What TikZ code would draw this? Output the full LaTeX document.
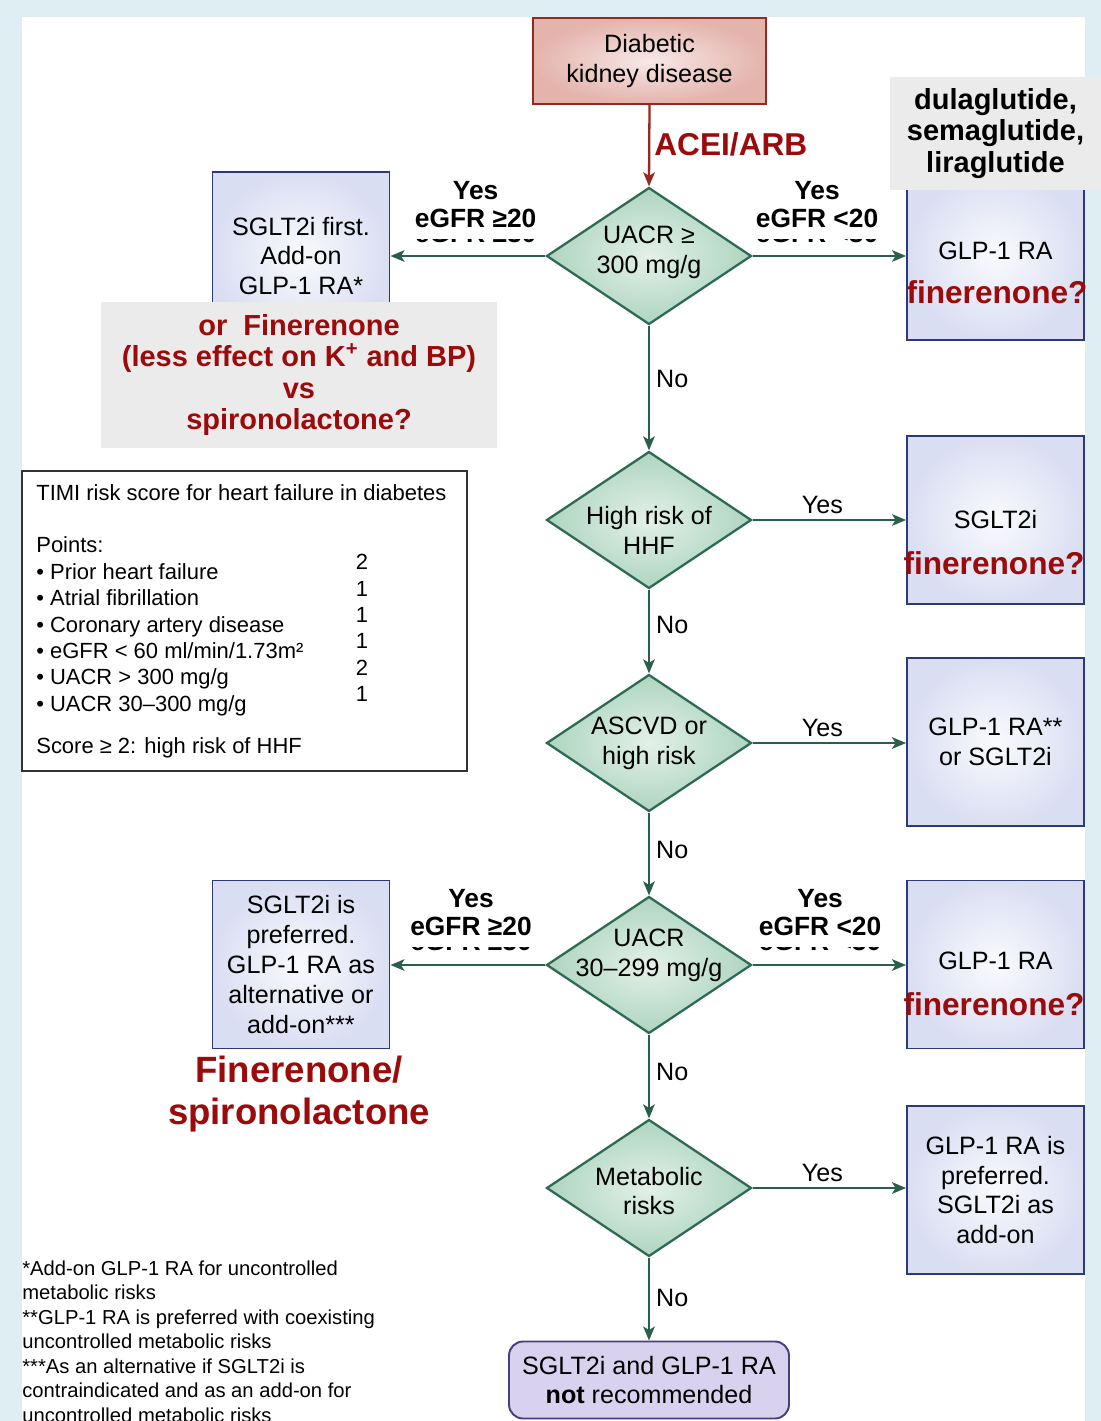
\documentclass[tikz,border=0pt]{standalone}
\usepackage{fontspec}
\setmainfont{Liberation Sans}
\usepackage{xcolor}
\usepackage{tikz}
\usetikzlibrary{shapes.geometric,arrows.meta}
\definecolor{pageBlue}{HTML}{DFEEF3}
\definecolor{kidRed}{HTML}{97281F}
\definecolor{kidPink}{HTML}{E4B3AC}
\definecolor{decGreen}{HTML}{2E6A53}
\definecolor{decFill}{HTML}{AED5BF}
\definecolor{boxNavy}{HTML}{2D3A78}
\definecolor{boxFill}{HTML}{DADEF2}
\definecolor{endPurple}{HTML}{4A3F7E}
\definecolor{endFill}{HTML}{D8D2EE}
\definecolor{noteRed}{HTML}{9B0B0B}
\definecolor{noteGray}{HTML}{EBEBEB}
\definecolor{flowGreen}{HTML}{2B5E4C}

\begin{document}
\begin{tikzpicture}[x=0.02cm, y=-0.02cm,
  every node/.style={font=\fontsize{14.3}{17}\selectfont},
  start/.style={draw=kidRed, line width=1.1pt, inner color=kidPink!30, outer color=kidPink,
                minimum width=4.66cm, minimum height=1.72cm, align=center},
  decision/.style={diamond, draw=decGreen, line width=1.3pt, inner color=decFill!35, outer color=decFill,
                   minimum width=4.1cm, minimum height=2.74cm, inner sep=0pt},
  dtext/.style={align=center, inner sep=0pt},
  drug/.style={draw=boxNavy, line width=1.1pt, inner color=boxFill!15, outer color=boxFill,
               minimum width=3.54cm, minimum height=3.36cm, align=center},
  stopbox/.style={draw=endPurple, line width=1.1pt, fill=endFill, rounded corners=0.28cm,
                  minimum width=5.6cm, minimum height=1.54cm, align=center},
  greybox/.style={fill=noteGray, inner sep=0pt, align=center,
                  font=\fontsize{16.5}{18}\selectfont\bfseries},
  redq/.style={text=noteRed, inner sep=0pt, font=\fontsize{18}{20}\selectfont\bfseries},
  bigred/.style={text=noteRed, inner sep=0pt, align=center, font=\fontsize{20.8}{23.8}\selectfont\bfseries},
  egfr/.style={fill=white, text=black, inner xsep=3pt, inner ysep=6.5pt, align=center,
               font=\fontsize{15}{16}\selectfont\bfseries},
  ghost/.style={text=black, inner sep=0pt, font=\fontsize{15}{16}\selectfont\bfseries},
  yeslbl/.style={text=black, inner sep=0pt},
  timitxt/.style={inner sep=0pt, align=left, font=\fontsize{12.5}{15}\selectfont},
  flow/.style={-{Stealth[length=2.8mm, width=2.3mm, inset=0.7mm]}, line width=1.3pt, flowGreen},
  flowtop/.style={flow, kidRed},
]
\useasboundingbox (0,0) rectangle (1101,1421);
\fill[pageBlue] (0,0) rectangle (1101,1421);
\fill[white] (22,17) rectangle (1085,1421);

% decision column
\node[start] (dkd) at (649.5,61) {Diabetic\\kidney disease};
\node[decision, label={[dtext, yshift=0.08cm]center:{UACR ≥\\300 mg/g}}] (uacrhi) at (649,256) {};
\node[decision, label={[dtext, yshift=-0.2cm]center:{High risk of\\HHF}}] (hhf) at (649,520) {};
\node[decision, label={[dtext]center:{ASCVD or\\high risk}}] (ascvd) at (649,743) {};
\node[decision, label={[dtext, yshift=0.2cm]center:{UACR\\30–299 mg/g}}] (uacrmid) at (649,965) {};
\node[decision, label={[dtext, yshift=-0.06cm]center:{Metabolic\\risks}}] (metab) at (649,1188) {};
\node[stopbox] (none) at (649,1380) {SGLT2i and GLP-1 RA\\\textbf{not} recommended};

% treatment boxes
\node[drug] (sgltfirst) at (301,256) {SGLT2i first.\\Add-on\\GLP-1 RA*};
\node[drug] (glpone) at (995.5,256) {\raisebox{6pt}{GLP-1 RA}};
\node[drug] (sgltonly) at (995.5,520) {SGLT2i};
\node[drug] (glporsglt) at (995.5,742) {GLP-1 RA**\\or SGLT2i};
\node[drug] (sgltpref) at (301,964.5) {SGLT2i is\\preferred.\\GLP-1 RA as\\alternative or\\add-on***};
\node[drug] (glptwo) at (995.5,964.5) {\raisebox{4pt}{GLP-1 RA}};
\node[drug] (glppref) at (995.5,1190) {GLP-1 RA is\\preferred.\\SGLT2i as\\add-on};

% notes on top of the boxes
\node[greybox, minimum width=4.22cm, minimum height=2.26cm] (glpnames) at (995.5,133.5)
  {dulaglutide,\\semaglutide,\\liraglutide};
\node[greybox, text=noteRed, minimum width=7.92cm, minimum height=2.92cm] (mraq) at (299,375)
  {or~~Finerenone\\(less effect on K\textsuperscript{+} and BP)\\vs\\spironolactone?};
\node[redq] (fin1) at (997,292) {finerenone?};
\node[redq] (fin2) at (994,563) {finerenone?};
\node[redq] (fin3) at (994,1004) {finerenone?};
\node[bigred] (mra) at (299,1094) {Finerenone/\\spironolactone};

% TIMI score box
\node[draw=black!80, line width=0.8pt, fill=white, minimum width=8.9cm, minimum height=6cm] (timi) at (244.5,621) {};
\node[timitxt, anchor=north west] (timilist) at (36,484)
  {TIMI risk score for heart failure in diabetes\\[15pt]
   Points:\\
   • Prior heart failure\\
   • Atrial fibrillation\\
   • Coronary artery disease\\
   • eGFR < 60 ml/min/1.73m²\\
   • UACR > 300 mg/g\\
   • UACR 30–300 mg/g\\[9.3pt]
   Score ≥ 2: high risk of HHF};
\node[timitxt, anchor=north, align=center] (timipts) at (362,554) {2\\1\\1\\1\\2\\1};

% footnotes
\node[anchor=north west, inner sep=0pt, align=left, font=\fontsize{11.5}{14}\selectfont] (notes) at (22,1260)
  {*Add-on GLP-1 RA for uncontrolled\\
   metabolic risks\\
   {}**GLP-1 RA is preferred with coexisting\\
   uncontrolled metabolic risks\\
   {}***As an alternative if SGLT2i is\\
   contraindicated and as an add-on for\\
   uncontrolled metabolic risks};

% arrows
\draw[flowtop] (dkd.south) -- (uacrhi.north)
  node[pos=.48, right=0.08cm, inner sep=0pt, text=noteRed, font=\fontsize{18}{20}\selectfont\bfseries] (acei) {ACEI/ARB};
\draw[flow] (uacrhi.west) -- (uacrhi.west -| sgltfirst.east)
  node[pos=.45, above=0.24cm, ghost] (old1) {eGFR ≥30}
  node[pos=.45, above=0.32cm, egfr] (yes1) {Yes\\eGFR ≥20};
\draw[flow] (uacrhi.east) -- (uacrhi.east -| glpone.west)
  node[pos=.42, above=0.24cm, ghost] (old2) {eGFR <30}
  node[pos=.42, above=0.32cm, egfr] (yes2) {Yes\\eGFR <20};
\draw[flow] (uacrhi.south) -- (hhf.north) node[pos=.43, right=0.12cm, yeslbl] (no1) {No};
\draw[flow] (hhf.east) -- (hhf.east -| sgltonly.west) node[pos=.455, above=0.1cm, yeslbl] (yes3) {Yes};
\draw[flow] (hhf.south) -- (ascvd.north) node[pos=.42, right=0.12cm, yeslbl] (no2) {No};
\draw[flow] (ascvd.east) -- (ascvd.east -| glporsglt.west) node[pos=.455, above=0.1cm, yeslbl] (yes4) {Yes};
\draw[flow] (ascvd.south) -- (uacrmid.north) node[pos=.45, right=0.12cm, yeslbl] (no3) {No};
\draw[flow] (uacrmid.west) -- (uacrmid.west -| sgltpref.east)
  node[pos=.48, above=0.26cm, ghost] (old3) {eGFR ≥30}
  node[pos=.48, above=0.34cm, egfr] (yes5) {Yes\\eGFR ≥20};
\draw[flow] (uacrmid.east) -- (uacrmid.east -| glptwo.west)
  node[pos=.44, above=0.26cm, ghost] (old4) {eGFR <30}
  node[pos=.44, above=0.34cm, egfr] (yes6) {Yes\\eGFR <20};
\draw[flow] (uacrmid.south) -- (metab.north) node[pos=.44, right=0.12cm, yeslbl] (no4) {No};
\draw[flow] (metab.east) -- (metab.east -| glppref.west) node[pos=.455, above=0.1cm, yeslbl] (yes7) {Yes};
\draw[flow] (metab.south) -- (none.north) node[pos=.49, right=0.12cm, yeslbl] (no5) {No};

\end{tikzpicture}
\end{document}
